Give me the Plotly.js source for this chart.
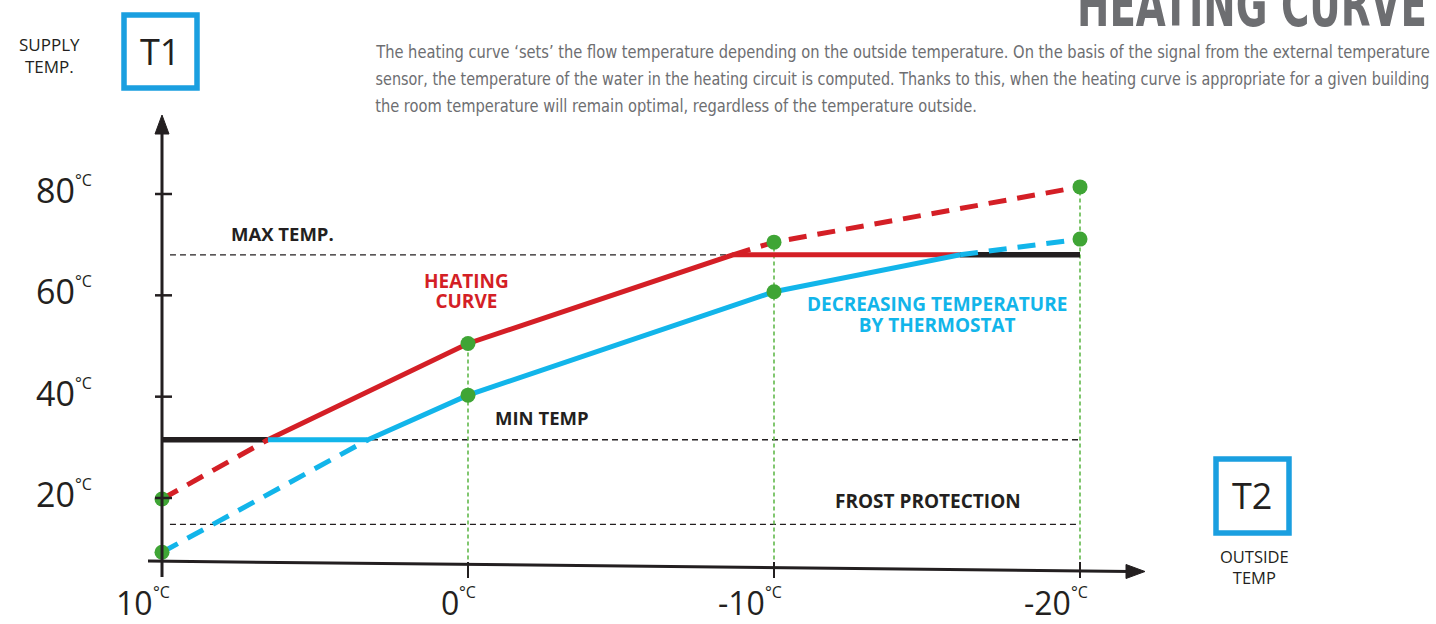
<!DOCTYPE html>
<html><head><meta charset="utf-8">
<script src="https://cdn.plot.ly/plotly-3.0.1.min.js"></script>
<style>html,body{margin:0;padding:0;background:#fff}#chart{width:1436px;height:624px}</style>
</head><body><div id="chart"></div>
<script>
// ---------------- data ----------------
const xTicks = [10, 0, -10, -20];
const yTicks = [20, 40, 60, 80];
const outsideTemps = [10, 0, -10, -20];
const heatingCurve = [19.8, 50.5, 70.5, 81.4];
const thermostatCurve = [9.3, 40.3, 60.7, 71.1];
const maxTemp = 68;
const minTemp = 31.5;
const frostTemp = 14.8;
// outside temperatures where the curves meet the limits
const heatingAtMinX = 6.54;
const heatingAtMaxX = -8.66;
const thermostatAtMinX = 3.27;
const thermostatAtMaxX = -16.08;
const limitLabels = ["MAX TEMP.", "MIN TEMP", "FROST PROTECTION"];
const heatingLabel = ["HEATING", "CURVE"];
const thermostatLabel = ["DECREASING TEMPERATURE", "BY THERMOSTAT"];
const titleText = "HEATING CURVE";
const descLines = [
  "The heating curve \u2018sets\u2019 the flow temperature depending on the outside temperature. On the basis of the signal from the external temperature",
  "sensor, the temperature of the water in the heating circuit is computed. Thanks to this, when the heating curve is appropriate for a given building",
  "the room temperature will remain optimal, regardless of the temperature outside."
];

// ---------------- styles ----------------
const W = 1436, H = 624;
const RED = "#d41f26", BLUE = "#12b5ea", BLACK = "#231f20", GREEN = "#3fa535", GREEN_L = "#62b94c", GREY = "#6d6e71", BOXBLUE = "#1a9fe0";
const FONT = "Open Sans, Noto Sans, sans-serif";
const COND = "DejaVu Sans Condensed, Liberation Sans Narrow, Roboto Condensed, DejaVu Sans, sans-serif";
const PX = x => x / W, PY = y => 1 - y / H;
const yAxisBottom = 6.5;

function line(x, y, color, width, dash) {
  return {type: "scatter", mode: "lines", x: x, y: y, hoverinfo: "skip", showlegend: false,
          line: {color: color, width: width, dash: dash || "solid"}};
}
const traces = [];
// limit reference lines
traces.push(line([9.74, -20], [maxTemp, maxTemp], BLACK, 1.3, "6px,4px"));
traces.push(line([10, -20], [minTemp, minTemp], BLACK, 1.3, "6px,4px"));
traces.push(line([9.74, -20], [frostTemp, frostTemp], BLACK, 1.3, "6px,4px"));
// green verticals
for (let i = 1; i < outsideTemps.length; i++) {
  traces.push(line([outsideTemps[i], outsideTemps[i]], [yAxisBottom, heatingCurve[i]], GREEN_L, 1.6, "4px,3px"));
}
// black limit segments
traces.push(line([10, heatingAtMinX], [minTemp, minTemp], BLACK, 5.5));
traces.push(line([thermostatAtMaxX, -20], [maxTemp, maxTemp], BLACK, 5.5));
// heating curve
traces.push(line([10, heatingAtMinX], [heatingCurve[0], minTemp], RED, 5, "18px,11px"));
traces.push(line([heatingAtMaxX, outsideTemps[2], outsideTemps[3]], [maxTemp, heatingCurve[2], heatingCurve[3]], RED, 5, "18px,11px"));
traces.push(line([heatingAtMinX, outsideTemps[1], heatingAtMaxX, thermostatAtMaxX], [minTemp, heatingCurve[1], maxTemp, maxTemp], RED, 5));
// thermostat curve
traces.push(line([10, thermostatAtMinX], [thermostatCurve[0], minTemp], BLUE, 5, "18px,11px"));
traces.push(line([thermostatAtMaxX, outsideTemps[3]], [maxTemp, thermostatCurve[3]], BLUE, 5, "18px,11px"));
traces.push(line([heatingAtMinX, thermostatAtMinX, outsideTemps[1], outsideTemps[2], thermostatAtMaxX],
                 [minTemp, minTemp, thermostatCurve[1], thermostatCurve[2], maxTemp], BLUE, 5));
// green points
traces.push({type: "scatter", mode: "markers", hoverinfo: "skip", showlegend: false,
  x: outsideTemps.concat(outsideTemps), y: heatingCurve.concat(thermostatCurve),
  marker: {color: GREEN, size: 15, line: {width: 0}}});

// ---------------- shapes ----------------
const shapes = [];
const P = (x, y) => PX(x) + "," + PY(y);
// y axis
shapes.push({type: "path", xref: "paper", yref: "paper", path: "M" + P(162, 577) + " L" + P(162, 130), line: {color: BLACK, width: 3}});
shapes.push({type: "path", xref: "paper", yref: "paper", path: "M" + P(162, 115) + " L" + P(169, 134) + " L" + P(155, 134) + " Z", fillcolor: BLACK, line: {color: BLACK, width: 1}});
// x axis (slightly slanted)
shapes.push({type: "path", xref: "paper", yref: "paper", path: "M" + P(148, 561) + " L" + P(1130, 571.5), line: {color: BLACK, width: 3}});
shapes.push({type: "path", xref: "paper", yref: "paper", path: "M" + P(1145, 571.5) + " L" + P(1126, 564.5) + " L" + P(1126, 578.5) + " Z", fillcolor: BLACK, line: {color: BLACK, width: 1}});
// y ticks
yTicks.forEach(v => shapes.push({type: "line", xref: "x", yref: "y", xsizemode: "pixel", xanchor: xTicks[0], x0: -7, x1: 10, y0: v, y1: v, line: {color: BLACK, width: 2.5}}));
// x ticks
xTicks.slice(1).forEach(v => shapes.push({type: "line", xref: "x", yref: "paper", x0: v, x1: v, y0: PY(562), y1: PY(578), line: {color: BLACK, width: 2}}));
// T boxes
shapes.push({type: "rect", xref: "paper", yref: "paper", x0: PX(124), x1: PX(197), y0: PY(88), y1: PY(15), line: {color: BOXBLUE, width: 5.5}});
shapes.push({type: "rect", xref: "paper", yref: "paper", x0: PX(1216), x1: PX(1289), y0: PY(533), y1: PY(459), line: {color: BOXBLUE, width: 5.5}});

// ---------------- annotations ----------------
const ann = [];
function txt(text, x, y, opts) {
  return Object.assign({text: text, x: x, y: y, xref: "paper", yref: "paper", showarrow: false,
    xanchor: "center", yanchor: "middle", font: {family: FONT, size: 17, color: BLACK}}, opts || {});
}
// y tick labels
yTicks.forEach(v => {
  ann.push({text: String(v), x: xTicks[0], y: v, xref: "x", yref: "y", showarrow: false, xanchor: "right", yanchor: "middle",
    xshift: -85, yshift: 4, font: {family: FONT, size: 34, color: BLACK}});
  ann.push({text: "\u00b0C", x: xTicks[0], y: v, xref: "x", yref: "y", showarrow: false, xanchor: "left", yanchor: "middle",
    xshift: -89, yshift: 14, font: {family: FONT, size: 16, color: BLACK}});
});
// x tick labels
xTicks.forEach(v => {
  ann.push({text: String(v), x: v, y: PY(602), xref: "x", yref: "paper", showarrow: false, xanchor: "right", yanchor: "middle",
    xshift: -7, font: {family: FONT, size: 32, color: BLACK}});
  ann.push({text: "\u00b0C", x: v, y: PY(592), xref: "x", yref: "paper", showarrow: false, xanchor: "left", yanchor: "middle",
    xshift: -11, font: {family: FONT, size: 16, color: BLACK}});
});
// box labels
ann.push(txt("T1", PX(160), PY(51), {font: {family: FONT, size: 36, color: BLACK}}));
ann.push(txt("T2", PX(1252), PY(495), {font: {family: FONT, size: 36, color: BLACK}}));
ann.push(txt("SUPPLY<br>TEMP.", PX(49), PY(55), {font: {family: FONT, size: 17, color: BLACK}}));
ann.push(txt("OUTSIDE<br>TEMP", PX(1254), PY(567), {font: {family: FONT, size: 16.5, color: BLACK}}));
// limit labels
ann.push(txt("<b>" + limitLabels[0] + "</b>", PX(229), PY(233), {xanchor: "left", font: {family: FONT, size: 18.5, color: BLACK}}));
ann.push(txt("<b>" + limitLabels[1] + "</b>", PX(493), PY(418), {xanchor: "left", font: {family: FONT, size: 18.5, color: BLACK}}));
ann.push(txt("<b>" + limitLabels[2] + "</b>", PX(833), PY(501), {xanchor: "left", font: {family: FONT, size: 19, color: BLACK}}));
// curve labels (two-line, tighter leading applied after render)
const heatIdx = ann.length;
ann.push(txt("<b>" + heatingLabel.join("<br>") + "</b>", PX(466), PY(293.4), {font: {family: FONT, size: 19, color: RED}}));
const thermIdx = ann.length;
ann.push(txt("<b>" + thermostatLabel.join("<br>") + "</b>", PX(937), PY(316.4), {font: {family: FONT, size: 19, color: BLUE}}));
// title & description
const titleIdx = ann.length;
ann.push(txt("<b>" + titleText + "</b>", PX(1429), PY(5), {xanchor: "right", font: {family: COND, size: 60, color: GREY}}));
const descIdx = ann.length;
descLines.forEach((t, i) => ann.push(txt(t, PX(373), PY(52 + 27 * i), {xanchor: "left", font: {family: COND, size: 17.5, color: GREY}})));

const layout = {
  width: W, height: H, margin: {l: 0, r: 0, t: 0, b: 0},
  paper_bgcolor: "#ffffff", plot_bgcolor: "#ffffff",
  xaxis: {range: [15.2941, -31.634], visible: false, showgrid: false, zeroline: false, fixedrange: true},
  yaxis: {range: [-4.868, 118.289], visible: false, showgrid: false, zeroline: false, fixedrange: true},
  shapes: shapes, annotations: ann, showlegend: false
};

function annText(gd, idx) { return gd.querySelector('.annotation[data-index="' + idx + '"] text'); }
// horizontally condense a text to emulate a condensed typeface
function condense(gd, idx, targetWidth, anchor, factor) {
  const t = annText(gd, idx);
  if (!t) return null;
  const b = t.getBBox();
  const s = factor || Math.min(1, targetWidth / b.width);
  const ax = anchor === "right" ? b.x + b.width : b.x;
  const prev = t.getAttribute("transform") || "";
  t.setAttribute("transform", "translate(" + ax + ",0) scale(" + s + ",1) translate(" + (-ax) + ",0) " + prev);
  return s;
}
// tighten the leading of a multi-line annotation
function leading(gd, idx, em) {
  const t = annText(gd, idx);
  if (!t) return;
  t.querySelectorAll("tspan.line").forEach((sp, k) => {
    if (k === 0) return;
    const dy = parseFloat(sp.getAttribute("dy") || "0");
    if (dy) sp.setAttribute("dy", (dy * em / 1.3) + "em");
  });
}
Plotly.newPlot("chart", traces, layout, {displayModeBar: false, staticPlot: true}).then(gd => {
  leading(gd, heatIdx, 1.05);
  leading(gd, thermIdx, 1.13);
  condense(gd, titleIdx, 350, "right");
  const s = condense(gd, descIdx, 1055, "left");
  condense(gd, descIdx + 1, 1055, "left");
  condense(gd, descIdx + 2, 0, "left", s);
});
</script></body></html>
